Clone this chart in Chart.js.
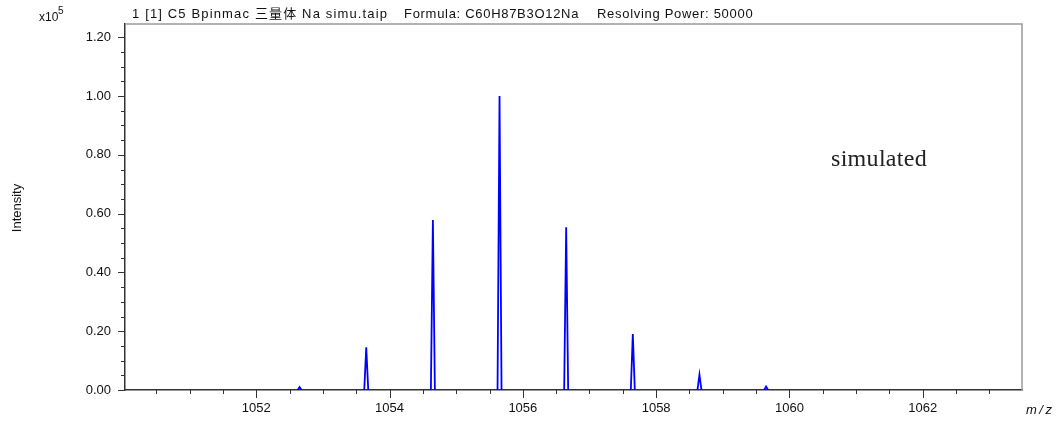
<!DOCTYPE html>
<html>
<head>
<meta charset="utf-8">
<script src="https://cdn.jsdelivr.net/npm/chart.js@4.4.1/dist/chart.umd.min.js"></script>
<style>
    html, body { margin: 0; padding: 0; background: #fff; }
    canvas { display: block; }
</style>
</head>
<body>
<canvas id="spectrumChart" width="1060" height="423"></canvas>
<script>
// isotope peaks (intensity in units of 1e5)
const peakMz = [1052.65, 1053.65, 1054.65, 1055.65, 1056.65, 1057.65, 1058.65, 1059.65];
const peakHeight = [0.010, 0.145, 0.578, 1.000, 0.554, 0.190, 0.052, 0.012];

const xMajorTicks = [1052, 1054, 1056, 1058, 1060, 1062];
const xTickLabels = ['1052', '1054', '1056', '1058', '1060', '1062'];
const yMajorTicks = [0, 0.2, 0.4, 0.6, 0.8, 1.0, 1.2];
const yTickLabels = ['0.00', '0.20', '0.40', '0.60', '0.80', '1.00', '1.20'];

const titleParts = ['1 [1] C5 Bpinmac 三量体 Na simu.taip', 'Formula: C60H87B3O12Na', 'Resolving Power: 50000'];

const X_MIN = 1050.03, X_MAX = 1063.49;
const Y_MAX = 1.245;
const PEAK_HALF_WIDTH = 0.03;

const SANS = '"Liberation Sans", Arial, "Noto Sans CJK JP", sans-serif';

function findMajor(list, v) {
    return list.findIndex(t => Math.abs(t - v) < 1e-6);
}

// peaks -> line points, gaps between them
const spectrumPoints = [];
peakMz.forEach((mz, i) => {
    spectrumPoints.push({ x: mz - PEAK_HALF_WIDTH, y: 0 });
    spectrumPoints.push({ x: mz, y: peakHeight[i] });
    spectrumPoints.push({ x: mz + PEAK_HALF_WIDTH, y: 0 });
    spectrumPoints.push({ x: mz + PEAK_HALF_WIDTH, y: null });
});

const decorPlugin = {
    id: 'decor',
    afterDraw(chart) {
        const ctx = chart.ctx;
        const area = chart.chartArea;
        const xs = chart.scales.x, ys = chart.scales.y;
        ctx.save();

        // frame (top + right)
        ctx.strokeStyle = '#9a9a9a';
        ctx.lineWidth = 1.5;
        ctx.beginPath();
        ctx.moveTo(area.left, area.top);
        ctx.lineTo(area.right, area.top);
        ctx.lineTo(area.right, area.bottom);
        ctx.stroke();

        // tick marks
        ctx.strokeStyle = '#333';
        ctx.lineWidth = 1;
        xs.ticks.forEach(t => {
            const px = Math.round(xs.getPixelForValue(t.value)) + 0.5;
            const len = findMajor(xMajorTicks, t.value) >= 0 ? 8 : 4;
            ctx.beginPath();
            ctx.moveTo(px, area.bottom);
            ctx.lineTo(px, area.bottom + len);
            ctx.stroke();
        });
        ys.ticks.forEach(t => {
            const py = Math.round(ys.getPixelForValue(t.value)) + 0.5;
            const len = findMajor(yMajorTicks, t.value) >= 0 ? 7 : 4;
            ctx.beginPath();
            ctx.moveTo(area.left - len, py);
            ctx.lineTo(area.left, py);
            ctx.stroke();
        });

        // title
        ctx.fillStyle = '#111';
        ctx.font = '13px ' + SANS;
        ctx.textBaseline = 'alphabetic';
        ctx.textAlign = 'left';
        ctx.letterSpacing = '1.15px';
        ctx.fillText(titleParts[0], 132, 18);
        ctx.letterSpacing = '0.7px';
        ctx.fillText(titleParts[1], 404, 18);
        ctx.fillText(titleParts[2], 597, 18);
        ctx.letterSpacing = '0px';

        // exponent
        ctx.font = '12px ' + SANS;
        ctx.fillText('x10', 39, 21);
        ctx.font = '10px ' + SANS;
        ctx.fillText('5', 58, 14);

        // y title
        ctx.save();
        ctx.translate(21, 208);
        ctx.rotate(-Math.PI / 2);
        ctx.textAlign = 'center';
        ctx.font = '13px ' + SANS;
        ctx.fillText('Intensity', 0, 0);
        ctx.restore();

        // m/z
        ctx.font = 'italic 13px ' + SANS;
        ctx.letterSpacing = '2.5px';
        ctx.fillText('m/z', 1026, 414);
        ctx.letterSpacing = '0px';

        // annotation
        ctx.font = '24px "Liberation Serif", "DejaVu Serif", serif';
        ctx.fillStyle = '#222';
        ctx.letterSpacing = '0.3px';
        ctx.fillText('simulated', 831, 166);
        ctx.letterSpacing = '0px';

        ctx.restore();
    }
};

const ctx = document.getElementById('spectrumChart').getContext('2d');
new Chart(ctx, {
    type: 'line',
    data: {
        datasets: [{
            data: spectrumPoints,
            borderColor: '#0000ff',
            borderWidth: 1.8,
            pointRadius: 0,
            tension: 0,
            spanGaps: false,
            fill: false
        }]
    },
    options: {
        responsive: false,
        animation: false,
        layout: { padding: { left: 0, right: 38, top: 24, bottom: 0 } },
        plugins: {
            legend: { display: false },
            tooltip: { enabled: false }
        },
        scales: {
            x: {
                type: 'linear',
                min: X_MIN,
                max: X_MAX,
                afterFit: s => { s.height = 33; },
                grid: { drawOnChartArea: false, drawTicks: false },
                border: { color: '#333', width: 1.5 },
                ticks: {
                    stepSize: 0.5,
                    includeBounds: false,
                    autoSkip: false,
                    maxRotation: 0,
                    padding: 11,
                    color: '#111',
                    font: { family: SANS, size: 13 },
                    callback: v => {
                        const i = findMajor(xMajorTicks, v);
                        return i >= 0 ? xTickLabels[i] : '';
                    }
                }
            },
            y: {
                min: 0,
                max: Y_MAX,
                afterFit: s => { s.width = 125; },
                grid: { drawOnChartArea: false, drawTicks: false },
                border: { color: '#333', width: 1.5 },
                ticks: {
                    stepSize: 0.05,
                    includeBounds: false,
                    autoSkip: false,
                    padding: 14,
                    color: '#111',
                    font: { family: SANS, size: 13 },
                    callback: v => {
                        const i = findMajor(yMajorTicks, v);
                        return i >= 0 ? yTickLabels[i] : '';
                    }
                }
            }
        }
    },
    plugins: [decorPlugin]
});
</script>
</body>
</html>
